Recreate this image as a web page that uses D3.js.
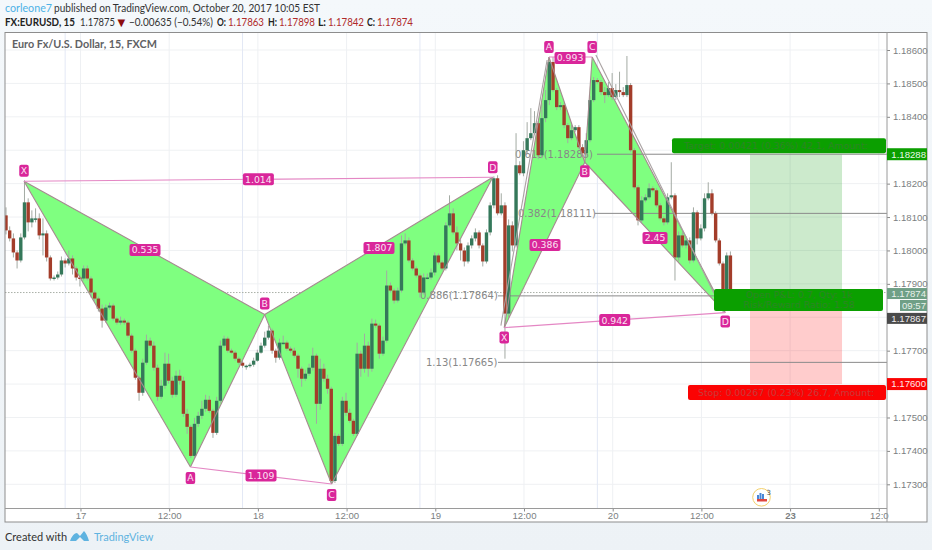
<!DOCTYPE html>
<html><head><meta charset="utf-8">
<script src="https://cdn.jsdelivr.net/npm/d3@7"></script>
<style>html,body{margin:0;padding:0;background:#f1f5f8}svg{display:block}</style>
</head><body><svg id="c" width="932" height="550"></svg>
<script>
// ---------- data ----------
const closes=[1.18060,1.18036,1.17994,1.17970,1.18039,1.18144,1.18084,1.18096,1.18096,1.18045,
1.18051,1.17979,1.17916,1.17919,1.17928,1.17970,1.17961,1.17976,1.17946,1.17919,
1.17916,1.17946,1.17916,1.17874,1.17856,1.17826,1.17790,1.17829,1.17835,1.17796,
1.17784,1.17790,1.17784,1.17745,1.17700,1.17619,1.17574,1.17664,1.17730,1.17715,
1.17649,1.17562,1.17595,1.17661,1.17610,1.17568,1.17625,1.17610,1.17511,1.17472,
1.17385,1.17481,1.17505,1.17526,1.17553,1.17520,1.17454,1.17550,1.17715,1.17736,
1.17700,1.17694,1.17676,1.17664,1.17655,1.17655,1.17658,1.17670,1.17694,1.17715,
1.17739,1.17760,1.17700,1.17679,1.17724,1.17724,1.17706,1.17700,1.17685,1.17646,
1.17616,1.17631,1.17649,1.17685,1.17541,1.17646,1.17616,1.17586,1.17310,1.17445,
1.17421,1.17550,1.17514,1.17490,1.17451,1.17691,1.17646,1.17715,1.17646,1.17781,
1.17775,1.17691,1.17730,1.17895,1.17880,1.17850,1.17880,1.18021,1.18030,1.17970,
1.17946,1.17925,1.17874,1.17919,1.17919,1.17934,1.17985,1.17964,1.17946,1.18075,
1.18111,1.18054,1.18021,1.18000,1.17967,1.18015,1.18036,1.18054,1.18015,1.17967,
1.18054,1.18135,1.18216,1.18111,1.18135,1.17811,1.18075,1.18015,1.18255,1.18231,
1.18300,1.18336,1.18351,1.18381,1.18285,1.18396,1.18450,1.18564,1.18480,1.18429,
1.18435,1.18375,1.18336,1.18360,1.18369,1.18309,1.18291,1.18330,1.18450,1.18510,
1.18504,1.18474,1.18465,1.18486,1.18459,1.18480,1.18474,1.18465,1.18495,1.18300,
1.18189,1.18090,1.18150,1.18159,1.18186,1.18180,1.18135,1.18096,1.18084,1.18159,
1.18165,1.17979,1.18045,1.18015,1.18030,1.17970,1.18114,1.18036,1.18066,1.18156,
1.18171,1.18111,1.18030,1.17961,1.17841,1.17985,1.17874];
const firstOpen=1.18105;
// wick lengths above / below the body, in 0.00001 price units
const upperWick=[24,12,15,6,12,66,12,24,30,15,45,9,6,6,9,12,6,24,9,6,
6,9,9,6,6,6,12,9,9,6,6,12,6,6,6,6,6,12,18,9,
12,9,18,33,30,12,15,18,12,15,6,18,12,24,15,12,6,12,15,9,
6,6,6,6,6,3,6,9,9,9,18,15,6,6,12,21,6,6,9,6,
6,12,12,24,6,30,15,12,6,9,6,12,24,12,6,33,9,36,12,15,
12,6,12,45,9,6,9,24,21,9,6,6,6,12,12,12,9,6,6,9,
54,15,18,12,9,9,9,12,6,6,9,9,6,9,36,9,18,12,96,12,
27,48,75,36,6,45,30,9,15,6,9,6,6,15,6,6,9,21,12,9,
6,6,15,18,45,18,55,15,87,6,6,6,12,9,15,6,6,6,6,12,
99,6,12,9,12,9,15,6,12,15,33,12,6,6,6,9,12];
const lowerWick=[12,9,15,24,6,6,27,15,12,12,60,12,6,6,6,6,12,6,18,9,
24,6,6,15,9,9,21,6,6,6,6,6,6,6,6,6,24,9,6,6,
9,12,6,9,9,9,6,12,9,21,6,9,9,9,9,6,15,6,6,6,
6,3,6,6,6,12,6,6,3,3,6,6,9,15,6,6,6,6,6,27,
24,6,6,9,60,18,9,15,6,6,6,6,9,6,6,6,24,12,24,9,
6,15,6,6,6,9,6,6,6,6,6,6,15,6,6,6,9,6,6,6,
6,6,21,30,15,6,9,9,9,15,6,9,9,6,6,135,12,18,6,6,
9,9,6,6,12,9,12,15,6,9,9,9,15,6,6,6,12,6,6,6,
6,9,24,6,9,9,15,6,6,6,6,15,6,6,6,6,6,6,9,6,
6,69,12,6,9,9,6,18,6,9,6,6,6,6,27,15,6];

const priceTicks=[1.173,1.174,1.175,1.176,1.177,1.178,1.179,1.180,1.181,1.182,1.183,1.184,1.185,1.186];
// tick labels the reference shows (the others sit under price tags)
const priceLabels=[1.173,1.174,1.175,1.177,1.179,1.180,1.181,1.182,1.184,1.185,1.186];
const timeTicks=[20.15,44.15,68.15,92.15,116.15,140.15,164.15,188.15,212.15,236.15];
const timeLabels=["17","12:00","18","12:00","19","12:00","20","12:00","23","12:0"];
const sessionBreaks=[16,64,112,160];

// harmonic patterns: point names, bar index, price
const patNames=["X","A","B","C","D"];
const leftBars=[4.87,49.9,70,88.1,131.7];
const leftPrices=[1.18207,1.17352,1.17808,1.17301,1.18219];
const rightBars=[134.8,146.9,156.6,158.6,194.6];
const rightPrices=[1.17769,1.18579,1.18264,1.18579,1.17814];
const leftRatios=["0.535","1.109","1.014","1.807"];
const rightRatios=["0.386","0.993","0.942","2.45"];
// parallel trend lines beside the right pattern
const trendBars=[[133.9,146.4],[159.6,191.6]];
const trendPrices=[[1.17775,1.18570],[1.18585,1.17871]];

const fibNames=["0.618(1.18288)","0.382(1.18111)","0.886(1.17864)","1.13(1.17665)"];
const fibPrices=[1.18288,1.18111,1.17864,1.17665];

const posBars=[201.3,226.2];
const entryPrice=1.17867,targetPrice=1.18288,stopPrice=1.17600,lastPrice=1.17874;

// ---------- layout ----------
const F={l:5,r:927,t:32.5,b:522},P={r:887,b:508.5};
const x=d3.scaleLinear().domain([0,240]).range([6,893.04]);
const y=d3.scaleLinear().domain([1.173,1.186]).range([484.3,50]);
const svg=d3.select("#c");
const sans="Lato,'Open Sans',sans-serif",dj="'DejaVu Sans',sans-serif",lib="'Liberation Sans',Arial,sans-serif";
const defs=svg.append("defs");
const bg=defs.append("linearGradient").attr("id","bg").attr("x2",0).attr("y2",1);
bg.append("stop").attr("offset",0).attr("stop-color","#f4f8fb");
bg.append("stop").attr("offset",1).attr("stop-color","#edf2f6");
defs.append("clipPath").attr("id","plot").append("rect").attr("x",F.l).attr("y",F.t).attr("width",P.r-F.l).attr("height",P.b-F.t);
defs.append("filter").attr("id","soft").append("feGaussianBlur").attr("stdDeviation",0.35);
svg.append("rect").attr("width",932).attr("height",550).attr("fill","url(#bg)");
svg.append("rect").attr("x",F.l).attr("y",F.t).attr("width",F.r-F.l).attr("height",F.b-F.t).attr("fill","#fff");

// header (each piece is fitted to the width it has in the reference)
const head=(t,x0,x1,yy,o={})=>svg.append("text").attr("x",x0).attr("y",yy).text(t)
  .attr("textLength",x1-x0).attr("lengthAdjust","spacingAndGlyphs")
  .attr("font-family",sans).attr("font-size",o.s||11).attr("font-weight",o.b?700:400).attr("fill",o.c||"#222");
head("corleone7",5,52,12,{c:"#4db2e6",s:11.4});
head("published on TradingView.com, October 20, 2017 10:05 EST",54,320,12,{c:"#333"});
head("FX:EURUSD, 15",5,75,26,{b:1});
head("1.17875",80,115,26,{c:"#333"});
svg.append("text").attr("x",117.5).attr("y",26).text("▼").attr("font-family",dj).attr("font-size",10).attr("fill","#8c0e0e");
head("−0.00635 (−0.54%)",129,213,26,{c:"#333"});
[["O:",217,226,"1.17863",228,264],["H:",268,277,"1.17898",279,315],["L:",318,326,"1.17842",328,364],["C:",367,375,"1.17874",377,413]].forEach(r=>{
  head(r[0],r[1],r[2],26,{b:1});head(r[3],r[4],r[5],26,{c:"#b02a2a"});
});

const plot=svg.append("g").attr("clip-path","url(#plot)");
// grid
plot.append("g").selectAll("line").data(priceTicks).join("line")
 .attr("x1",F.l).attr("x2",P.r).attr("y1",d=>y(d)).attr("y2",d=>y(d)).attr("stroke","#eff1f3");
plot.append("g").selectAll("line").data(timeTicks).join("line")
 .attr("y1",F.t).attr("y2",P.b).attr("x1",d=>x(d)).attr("x2",d=>x(d)).attr("stroke","#eef0f3");
plot.append("g").selectAll("line").data(sessionBreaks).join("line")
 .attr("y1",F.t).attr("y2",P.b).attr("x1",d=>x(d)).attr("x2",d=>x(d)).attr("stroke","#e3e8f5");
plot.append("line").attr("x1",F.l).attr("x2",P.r).attr("y1",y(lastPrice)).attr("y2",y(lastPrice))
 .attr("stroke","#aab0a8").attr("stroke-dasharray","1.5 1.5");

// position zones
plot.append("rect").attr("x",x(posBars[0])).attr("width",x(posBars[1])-x(posBars[0]))
 .attr("y",y(targetPrice)).attr("height",y(entryPrice)-y(targetPrice)).attr("fill","rgba(0,150,0,.2)");
plot.append("rect").attr("x",x(posBars[0])).attr("width",x(posBars[1])-x(posBars[0]))
 .attr("y",y(entryPrice)).attr("height",y(stopPrice)-y(entryPrice)).attr("fill","rgba(255,0,0,.2)");

// pattern fills
const pt=(bars,pr,i)=>[x(bars[i]),y(pr[i])];
[[leftBars,leftPrices],[rightBars,rightPrices]].forEach(([b,p])=>{
  [[0,1,2],[2,3,4]].forEach(t=>{
    plot.append("polygon").attr("points",t.map(i=>pt(b,p,i).join(",")).join(" ")).attr("fill","#7fff80");
  });
});

// fib lines + labels
const fibX=[[597,887],[595,887],[498,714],[498,887]],fibLx=[515,518,420,426];
fibNames.forEach((n,i)=>{
  plot.append("line").attr("x1",fibX[i][0]).attr("x2",fibX[i][1]).attr("y1",y(fibPrices[i])).attr("y2",y(fibPrices[i])).attr("stroke","#8a8a8a");
  plot.append("text").attr("x",fibLx[i]).attr("y",y(fibPrices[i])+3.5).text(n).attr("font-family",dj).attr("font-size",10).attr("fill","#888");
});

// candles
const cg=plot.append("g").attr("filter","url(#soft)");
closes.forEach((c,i)=>{
  const o=i?closes[i-1]:firstOpen,up=c>=o,X=x(i);
  cg.append("line").attr("x1",X).attr("x2",X)
    .attr("y1",y(Math.max(o,c)+upperWick[i]*1e-5)).attr("y2",y(Math.min(o,c)-lowerWick[i]*1e-5))
    .attr("stroke","#a3aaa3").attr("stroke-width",1);
  cg.append("rect").attr("x",X-1.7).attr("width",3.4).attr("y",y(Math.max(o,c)))
    .attr("height",Math.max(1.5,Math.abs(y(o)-y(c)))).attr("fill",up?"#34785a":"#a33d2c");
});

// pattern lines
const lineCol="#a58a8f",pink="#e487c4";
const seg=(a,b,col)=>plot.append("line").attr("x1",a[0]).attr("y1",a[1]).attr("x2",b[0]).attr("y2",b[1]).attr("stroke",col).attr("stroke-width",1.1);
[[leftBars,leftPrices],[rightBars,rightPrices]].forEach(([b,p])=>{
  [[0,1],[1,2],[0,2],[2,3],[3,4],[2,4]].forEach(s=>seg(pt(b,p,s[0]),pt(b,p,s[1]),lineCol));
  seg(pt(b,p,0),pt(b,p,4),pink);seg(pt(b,p,1),pt(b,p,3),pink);
});
trendBars.forEach((b,i)=>seg([x(b[0]),y(trendPrices[i][0])],[x(b[1]),y(trendPrices[i][1])],"#a9a2a2"));

// position labels
const bar=(x0,x1,y0,y1,fill)=>plot.append("rect").attr("x",x0).attr("width",x1-x0).attr("y",y0).attr("height",y1-y0).attr("rx",2).attr("fill",fill);
const bt=(t,xx,yy,fill)=>plot.append("text").attr("x",xx).attr("y",yy).attr("text-anchor","middle").text(t)
  .attr("font-family",dj).attr("font-size",9.4).attr("fill",fill);
bar(672,886,y(targetPrice)-16,y(targetPrice)-1,"#0b9f00");
bt("Target: 0.00421 (0.36%) 42.1, Amount:",776,y(targetPrice)-5,"#2d8526");
bar(714,883,289,311,"#0b9f00");
bt("Open P&L: 0.7, Qty: 1k",799,298,"#2d8526");
bt("Risk/Reward Ratio: 1.58",799,308,"#2d8526");
bar(688,886,y(stopPrice)+1,y(stopPrice)+16,"#fb0303");
bt("Stop: 0.00267 (0.23%) 26.7, Amount:",786,y(stopPrice)+12,"#c93a3a");

// earnings marker
const em=plot.append("g");
em.append("circle").attr("cx",761.5).attr("cy",497.3).attr("r",8.8).attr("fill","#fff").attr("stroke","#f2cf6a").attr("stroke-width",1);
[[757,495,2,4],[759.5,493,2,6],[762,494,2,5]].forEach(b=>em.append("rect").attr("x",b[0]).attr("y",b[1]).attr("width",b[2]).attr("height",b[3]).attr("fill","#4a86d6"));
em.append("rect").attr("x",757).attr("y",499).attr("width",10).attr("height",2.5).attr("fill","#e0463e");
em.append("text").attr("x",766.5).attr("y",495).attr("font-family",dj).attr("font-size",7).attr("fill","#444").text("3");

// pills
const pinkFill="#d9269a";
const pill=(cx,cy,t,w)=>{
  const g=svg.append("g");
  g.append("rect").attr("x",cx-w/2).attr("y",cy-6).attr("width",w).attr("height",12).attr("rx",2).attr("fill",pinkFill);
  g.append("text").attr("x",cx).attr("y",cy+3.4).attr("text-anchor","middle").text(t).attr("font-family",dj).attr("font-size",9.3).attr("fill","#fbe3f3");
};
const mid=(a,b)=>[(a[0]+b[0])/2,(a[1]+b[1])/2];
const L=i=>pt(leftBars,leftPrices,i),R=i=>pt(rightBars,rightPrices,i);
let m=mid(L(0),L(2));pill(145,250,leftRatios[0],31);
m=mid(L(1),L(3));pill(m[0],m[1],leftRatios[1],31);
m=mid(L(0),L(4));pill(m[0],m[1],leftRatios[2],31);
pill(379,248,leftRatios[3],31);
pill(545,245,rightRatios[0],31);
pill(570,58,rightRatios[1],31);
m=mid(R(0),R(4));pill(m[0],m[1],rightRatios[2],31);
pill(655,238,rightRatios[3],25);
const off=[-10.5,11,-11,11,-10],offR=[10,-10,9,-10,9];
patNames.forEach((n,i)=>{const p=L(i);pill(p[0],p[1]+off[i],n,9.5);});
patNames.forEach((n,i)=>{const p=R(i);pill(p[0],p[1]+offR[i],n,9.5);});

// axes
const txt="#7c7f82";
const ax=d3.axisRight(y).tickValues(priceLabels).tickFormat(d3.format(".5f")).tickSize(3);
const ga=svg.append("g").attr("transform",`translate(${P.r},0)`).call(ax);
ga.select(".domain").remove();
ga.selectAll("line").attr("stroke","#888");
ga.selectAll("text").attr("font-family",lib).attr("font-size",9.6).attr("fill",txt).attr("x",6);
const tx=d3.axisBottom(x).tickValues(timeTicks).tickFormat((d,i)=>timeLabels[i]).tickSize(3);
const gt=svg.append("g").attr("transform",`translate(0,${P.b})`).call(tx);
gt.select(".domain").remove();
gt.selectAll("line").attr("stroke","#888");
gt.selectAll("text").attr("font-family",lib).attr("font-size",9.6).attr("fill",txt).attr("y",4)
  .attr("font-weight",(d,i)=>timeLabels[i]==="23"?700:400);

// frame
svg.append("rect").attr("x",F.l).attr("y",F.t).attr("width",F.r-F.l).attr("height",F.b-F.t).attr("fill","none").attr("stroke","#8d8d8d");
svg.append("line").attr("x1",P.r).attr("x2",P.r).attr("y1",F.t).attr("y2",F.b).attr("stroke","#9a9a9a");
svg.append("line").attr("x1",F.l).attr("x2",P.r).attr("y1",P.b).attr("y2",P.b).attr("stroke","#9a9a9a");

// price tags
const tag=(x0,yc,h,fill,t,col)=>{
  svg.append("rect").attr("x",x0).attr("y",yc-h/2).attr("width",F.r-x0).attr("height",h).attr("fill",fill);
  svg.append("text").attr("x",926).attr("y",yc+3.4).attr("text-anchor","end").text(t).attr("font-family",lib).attr("font-size",9.6).attr("fill",col);
};
tag(887,y(targetPrice),12,"#0b9f00","1.18288","#e8f8e8");
tag(887,y(lastPrice)+1,11,"#6f9f86","1.17874","#e8f2ec");
tag(900,305.5,11,"#6f9f86","09:57","#e8f2ec");
tag(887,y(entryPrice)+23.5,11,"#4a4a4a","1.17867","#eee");
tag(887,y(stopPrice),12,"#fb0303","1.17600","#ffe8e8");

// chart title
svg.append("text").attr("x",12).attr("y",48).text("Euro Fx/U.S. Dollar, 15, FXCM")
  .attr("font-family",sans).attr("font-weight",700).attr("font-size",10.8).attr("fill","#5f6164");

// footer
svg.append("text").attr("x",5).attr("y",541).text("Created with").attr("font-family",sans).attr("font-size",11).attr("fill","#333");
svg.append("path").attr("d","M70 541 Q73 533 77 533 L80 536 L84 531 Q87 534 89 541 L84 541 L80 537 L76 541 Z").attr("fill","#5fb3e0");
svg.append("text").attr("x",94).attr("y",541).text("TradingView").attr("font-family",sans).attr("font-size",11).attr("fill","#5fb3e0");
</script></body></html>
